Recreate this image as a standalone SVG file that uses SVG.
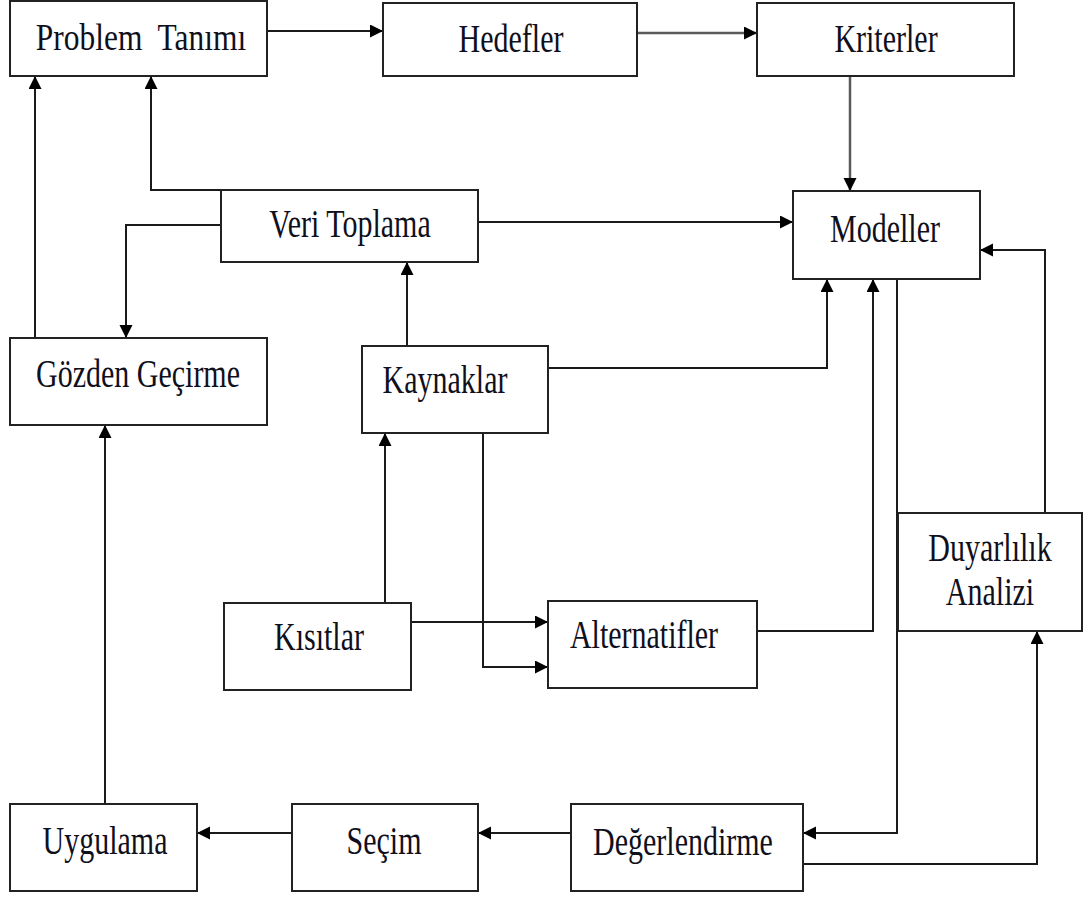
<svg xmlns="http://www.w3.org/2000/svg" width="1083" height="901" viewBox="0 0 1083 901">
  <style>
    .box { fill: #ffffff; stroke: #222222; stroke-width: 2; }
    .lbl { font-family: "Liberation Serif", "Times New Roman", serif; font-size: 40px; fill: #10101c; text-anchor: middle; }
    .wire { fill: none; stroke: #1a1a1a; stroke-width: 2; marker-end: url(#arrow); }
    .wire.soft { stroke: #5a5a5a; stroke-width: 2.5; }
    .wire.plain { marker-end: none; }
  </style>
  <defs>
    <marker id="arrow" markerUnits="userSpaceOnUse" markerWidth="14" markerHeight="14" refX="13" refY="6.5" orient="auto">
      <path d="M0,0 L13,6.5 L0,13 z" fill="#000000"/>
    </marker>
  </defs>
  <rect width="1083" height="901" fill="#ffffff"/>

  <!-- connectors -->
  <g id="connectors">
    <path class="wire" d="M267,31 H383"/>
    <path class="wire soft" d="M637,33 H757"/>
    <path class="wire soft" d="M850,76 V191"/>
    <path class="wire" d="M478,222 H793"/>
    <path class="wire" d="M1045,513 V250 H980"/>
    <path class="wire" d="M897,279 V833 H803"/>
    <path class="wire" d="M548,368 H827 V279"/>
    <path class="wire" d="M757,631 H873 V279"/>
    <path class="wire" d="M803,864 H1037 V631"/>
    <path class="wire" d="M571,833 H478"/>
    <path class="wire" d="M292,833 H197"/>
    <path class="wire" d="M105,804 V425"/>
    <path class="wire" d="M35,338 V76"/>
    <path class="wire" d="M221,190 H151 V76"/>
    <path class="wire" d="M221,225 H126 V338"/>
    <path class="wire" d="M407,346 V262"/>
    <path class="wire" d="M385,603 V433"/>
    <path class="wire" d="M411,622 H548"/>
    <path class="wire" d="M483,433 V667 H548"/>
  </g>

  <!-- nodes -->
  <g id="problem-tanimi">
    <rect class="box" x="10" y="1" width="257" height="75"/>
    <text class="lbl" xml:space="preserve" style="font-size:37px" transform="translate(141,50) scale(0.85,1)">Problem  Tanımı</text>
  </g>
  <g id="hedefler">
    <rect class="box" x="383" y="3" width="254" height="73"/>
    <text class="lbl" transform="translate(511,52) scale(0.75,1)">Hedefler</text>
  </g>
  <g id="kriterler">
    <rect class="box" x="757" y="3" width="257" height="73"/>
    <text class="lbl" transform="translate(886,52) scale(0.75,1)">Kriterler</text>
  </g>
  <g id="modeller">
    <rect class="box" x="793" y="191" width="187" height="88"/>
    <text class="lbl" transform="translate(885,242) scale(0.75,1)">Modeller</text>
  </g>
  <g id="veri-toplama">
    <rect class="box" x="221" y="190" width="257" height="72"/>
    <text class="lbl" transform="translate(350,237) scale(0.75,1)">Veri Toplama</text>
  </g>
  <g id="gozden-gecirme">
    <rect class="box" x="10" y="338" width="257" height="87"/>
    <text class="lbl" transform="translate(138,387) scale(0.75,1)">Gözden Geçirme</text>
  </g>
  <g id="kaynaklar">
    <rect class="box" x="362" y="346" width="186" height="87"/>
    <text class="lbl" transform="translate(445,393) scale(0.75,1)">Kaynaklar</text>
  </g>
  <g id="kisitlar">
    <rect class="box" x="224" y="603" width="187" height="87"/>
    <text class="lbl" transform="translate(319,650) scale(0.75,1)">Kısıtlar</text>
  </g>
  <g id="alternatifler">
    <rect class="box" x="548" y="601" width="209" height="87"/>
    <text class="lbl" transform="translate(644,648) scale(0.75,1)">Alternatifler</text>
  </g>
  <g id="duyarlilik-analizi">
    <rect class="box" x="898" y="513" width="184" height="118"/>
    <text class="lbl" transform="translate(990,561) scale(0.75,1)">Duyarlılık</text>
    <text class="lbl" transform="translate(990,605) scale(0.75,1)">Analizi</text>
  </g>
  <g id="uygulama">
    <rect class="box" x="10" y="804" width="187" height="87"/>
    <text class="lbl" transform="translate(105,854) scale(0.75,1)">Uygulama</text>
  </g>
  <g id="secim">
    <rect class="box" x="292" y="804" width="186" height="87"/>
    <text class="lbl" transform="translate(384,854) scale(0.75,1)">Seçim</text>
  </g>
  <g id="degerlendirme">
    <rect class="box" x="571" y="804" width="232" height="87"/>
    <text class="lbl" transform="translate(683,855) scale(0.75,1)">Değerlendirme</text>
  </g>
</svg>
